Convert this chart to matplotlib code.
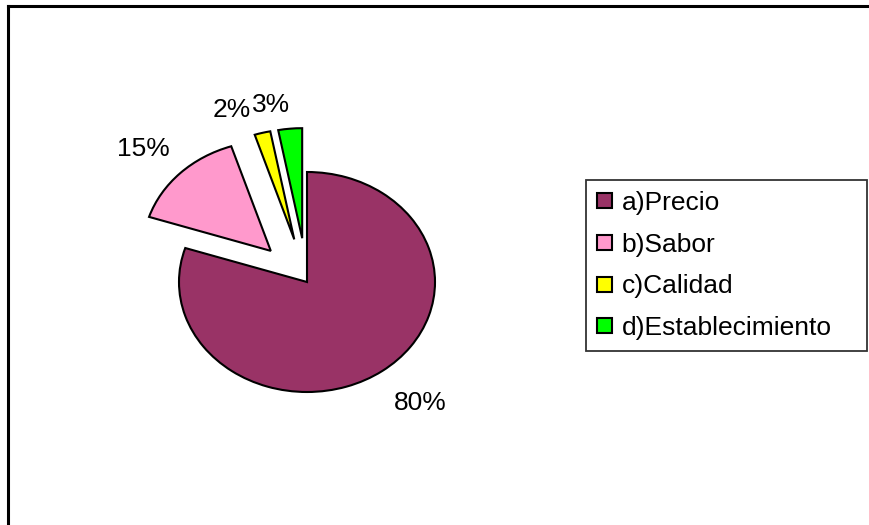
import matplotlib.pyplot as plt
import numpy as np
from matplotlib.lines import Line2D

plt.rcParams['font.family'] = ['Liberation Sans', 'DejaVu Sans']

# data
categories = ['a)Precio', 'b)Sabor', 'c)Calidad', 'd)Establecimiento']
values = [80, 15, 2, 3]
pct_labels = ['80%', '15%', '2%', '3%']

colors = ['#993366', '#FF99CC', '#FFFF00', '#00FF00']
explode = [0, 0.4, 0.4, 0.4]
# label placement: distance from pie centre, angle nudge in degrees
lbl_dist = [1.41, 1.76, 1.67, 1.63]
lbl_nudge = [2.8, 1.7, 6.1, 4.5]

W, H = 870, 525
fig = plt.figure(figsize=(W / 100, H / 100), dpi=100)

# pie is stretched horizontally in the original, so axes is not square
cx, cy, rx, ry = 307, 282, 128, 110
ax = fig.add_axes([(cx - 2 * rx) / W, (H - cy - 2 * ry) / H, 4 * rx / W, 4 * ry / H])
wedges, _ = ax.pie(values, colors=colors, explode=explode, startangle=90,
                   counterclock=False, radius=1,
                   wedgeprops=dict(edgecolor='black', linewidth=1.5))
ax.set_aspect('auto')
ax.set_xlim(-2, 2)
ax.set_ylim(-2, 2)
ax.axis('off')

for w, txt, d, nd in zip(wedges, pct_labels, lbl_dist, lbl_nudge):
    ang = np.deg2rad((w.theta1 + w.theta2) / 2 + nd)
    ax.text(d * np.cos(ang), d * np.sin(ang), txt,
            ha='center', va='center', fontsize=19)

# legend box
lx0, lx1, ly0, ly1 = 586, 867, 180, 348
leg = fig.legend(wedges, categories, loc='upper left',
                 bbox_to_anchor=(lx0 / W, 1 - ly1 / H, (lx1 - lx0) / W, (ly1 - ly0) / H),
                 mode='expand', fontsize=19, frameon=True, fancybox=False,
                 edgecolor='black', borderpad=0.42, labelspacing=0.67,
                 handlelength=0.55, handleheight=0.5, handletextpad=0.38,
                 borderaxespad=0)
leg.get_frame().set_linewidth(1.3)

# outer chart border (top and left visible)
fig.add_artist(Line2D([8 / W, 1], [1 - 6 / H, 1 - 6 / H], color='black', linewidth=2.2,
                      transform=fig.transFigure))
fig.add_artist(Line2D([8 / W, 8 / W], [0, 1 - 6 / H], color='black', linewidth=2.2,
                      transform=fig.transFigure))

fig.savefig('out.png', dpi=100)
